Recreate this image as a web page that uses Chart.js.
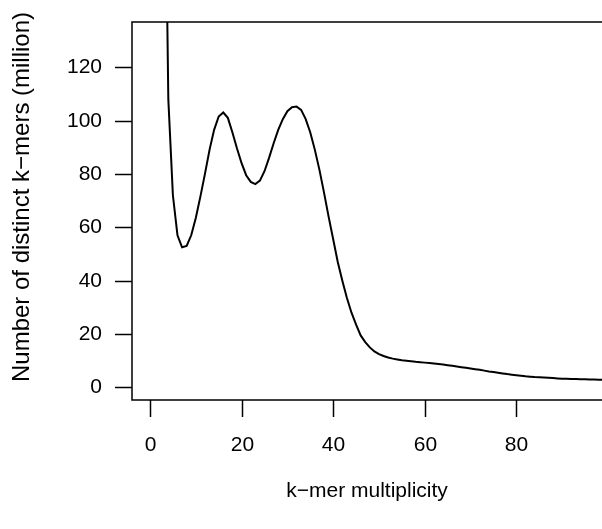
<!DOCTYPE html>
<html>
<head>
<meta charset="utf-8">
<script src="https://cdn.jsdelivr.net/npm/chart.js@4.4.1/dist/chart.umd.min.js"></script>
<style>
  html, body { margin: 0; padding: 0; background: #fff; }
  #wrap { width: 602px; height: 529px; }
</style>
</head>
<body>
<div id="wrap"><canvas id="kmerChart" width="602" height="529"></canvas></div>
<script>
// k-mer spectrum: multiplicity vs distinct k-mers (million)
const multiplicity = [];
for (let m = 3; m <= 100; m++) multiplicity.push(m);

const kmersMillion = [
  240, 108, 72, 57, 52.5, 53, 57, 63.5, 71.5, 80,          // 3-12
  89, 96.5, 101.5, 103, 101, 95.5, 89.5, 84, 79.5, 77,     // 13-22
  76.2, 77.5, 81, 86, 91.5, 96.5, 100.5, 103.5, 105, 105.2, // 23-32
  104, 100.5, 95.5, 89, 81.5, 73, 64, 55.5, 47, 40,        // 33-42
  33.5, 28, 23.5, 19.5, 17, 15, 13.5, 12.5, 11.8, 11.2,    // 43-52
  10.8, 10.5, 10.2, 10, 9.8, 9.6, 9.45, 9.3, 9.15, 9.0,    // 53-62
  8.8, 8.6, 8.35, 8.1, 7.85, 7.6, 7.35, 7.1, 6.85, 6.6,    // 63-72
  6.3, 6.0, 5.75, 5.5, 5.25, 5.0, 4.8, 4.6, 4.4, 4.2,      // 73-82
  4.05, 3.9, 3.8, 3.7, 3.6, 3.5, 3.4, 3.3, 3.25, 3.2,      // 83-92
  3.15, 3.1, 3.05, 3.0, 2.95, 2.9, 2.85, 2.8               // 93-100
];

const xTicks = [0, 20, 40, 60, 80];
const yTicks = [0, 20, 40, 60, 80, 100, 120];
const xTitle = 'k\u2212mer multiplicity';
const yTitle = 'Number of distinct k\u2212mers (million)';

const FONT = '21px "Liberation Sans", Arial, sans-serif';
const YTITLE_FONT = '24px "Liberation Sans", Arial, sans-serif';

// base-graphics style axes: open box, outward ticks, horizontal labels
const rAxes = {
  id: 'rAxes',
  afterDraw(chart) {
    const { ctx, chartArea: a, scales } = chart;
    const xs = scales.x, ys = scales.y;
    ctx.save();
    ctx.strokeStyle = '#000';
    ctx.lineWidth = 1.5;
    ctx.beginPath();
    ctx.moveTo(a.right + 2, a.top);
    ctx.lineTo(a.left, a.top);
    ctx.lineTo(a.left, a.bottom);
    ctx.lineTo(a.right + 2, a.bottom);
    ctx.stroke();

    ctx.fillStyle = '#000';
    ctx.font = FONT;

    // x ticks
    ctx.textAlign = 'center';
    ctx.textBaseline = 'middle';
    xTicks.forEach(v => {
      const px = Math.round(xs.getPixelForValue(v)) + 0.5;
      ctx.beginPath();
      ctx.moveTo(px, a.bottom);
      ctx.lineTo(px, a.bottom + 17);
      ctx.stroke();
      ctx.fillText(String(v), px, a.bottom + 45);
    });

    // y ticks
    ctx.textAlign = 'right';
    yTicks.forEach(v => {
      const py = Math.round(ys.getPixelForValue(v)) + 0.5;
      ctx.beginPath();
      ctx.moveTo(a.left, py);
      ctx.lineTo(a.left - 17, py);
      ctx.stroke();
      ctx.fillText(String(v), a.left - 30, py);
    });

    // titles
    ctx.textAlign = 'center';
    ctx.fillText(xTitle, (a.left + a.right) / 2, a.bottom + 91);
    ctx.font = YTITLE_FONT;
    ctx.translate(22, 197);
    ctx.rotate(-Math.PI / 2);
    ctx.fillText(yTitle, 0, 0);
    ctx.restore();
  }
};

const ctx = document.getElementById('kmerChart').getContext('2d');
const kmerChart = new Chart(ctx, {
  type: 'line',
  data: {
    datasets: [{
      data: multiplicity.map((m, i) => ({ x: m, y: kmersMillion[i] })),
      borderColor: '#000',
      borderWidth: 2,
      pointRadius: 0,
      tension: 0,
      fill: false
    }]
  },
  options: {
    responsive: false,
    animation: false,
    layout: { padding: { left: 132, top: 22, right: 0, bottom: 129 } },
    plugins: { legend: { display: false }, tooltip: { enabled: false } },
    scales: {
      x: { type: 'linear', min: -3.93, max: 98.7, display: false },
      y: { type: 'linear', min: -4.7, max: 136.9, display: false }
    }
  },
  plugins: [rAxes]
});
</script>
</body>
</html>
